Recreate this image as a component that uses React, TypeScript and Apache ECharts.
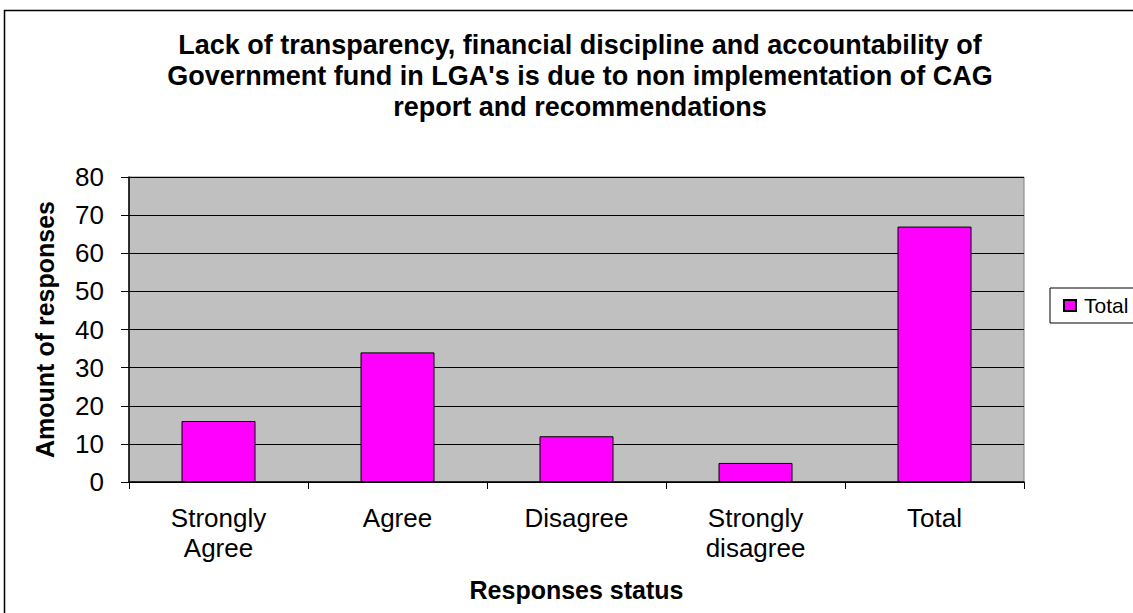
import React, { useEffect, useRef } from "react";
import * as echarts from "echarts";

const categories = ["Strongly\nAgree", "Agree", "Disagree", "Strongly\ndisagree", "Total"];
const totalValues = [16, 34, 12, 5, 67];
const yTicks = [0, 10, 20, 30, 40, 50, 60, 70, 80];
const titleText =
  "Lack of transparency, financial discipline and accountability of\nGovernment fund in LGA's is due to non implementation of CAG\nreport and recommendations";

export default function App() {
  const ref = useRef<HTMLDivElement>(null);
  useEffect(() => {
    if (!ref.current) return;
    const chart = echarts.init(ref.current, null, { renderer: "svg" });
    const font = "Liberation Sans, Arial, sans-serif";
    chart.setOption({
      animation: false,
      textStyle: { fontFamily: font },
      graphic: [
        {
          type: "rect",
          shape: { x: 4.5, y: 10.5, width: 1200, height: 700 },
          style: { fill: "none", stroke: "#000", lineWidth: 1.5 },
          silent: true,
        },
      ],
      title: {
        text: titleText,
        left: 575,
        top: 24,
        textAlign: "center",
        textStyle: {
          fontFamily: font,
          fontSize: 27,
          fontWeight: "bold",
          lineHeight: 31,
          color: "#000",
        },
      },
      legend: {
        left: 1050,
        top: 288,
        orient: "vertical",
        data: ["Total"],
        icon: "rect",
        itemWidth: 12,
        itemHeight: 11,
        itemGap: 4,
        padding: [7, 30, 7, 13],
        borderColor: "#000",
        borderWidth: 1,
        textStyle: { fontFamily: font, fontSize: 21, color: "#000", padding: [0, 0, 0, 3] },
      },
      grid: {
        left: 129,
        right: 109,
        top: 177,
        bottom: 131,
        show: true,
        backgroundColor: "#C0C0C0",
        borderColor: "#808080",
        borderWidth: 1,
      },
      xAxis: {
        type: "category",
        data: categories,
        name: "Responses status",
        nameLocation: "middle",
        nameGap: 95,
        nameTextStyle: { fontFamily: font, fontSize: 25, fontWeight: "bold", color: "#000" },
        axisLine: { lineStyle: { color: "#000", width: 1.5 } },
        axisTick: { show: true, length: 7, lineStyle: { color: "#000" } },
        axisLabel: { fontFamily: font, fontSize: 26, color: "#000", margin: 21, lineHeight: 30 },
      },
      yAxis: {
        type: "value",
        min: yTicks[0],
        max: yTicks[yTicks.length - 1],
        interval: 10,
        name: "Amount of responses",
        nameLocation: "middle",
        nameGap: 72,
        nameTextStyle: { fontFamily: font, fontSize: 25, fontWeight: "bold", color: "#000" },
        axisLine: { show: true, lineStyle: { color: "#000", width: 1.5 } },
        axisTick: { show: true, length: 8, lineStyle: { color: "#000" } },
        axisLabel: { fontFamily: font, fontSize: 26, color: "#000", margin: 25 },
        splitLine: { show: true, lineStyle: { color: "#000", width: 1 } },
      },
      series: [
        {
          name: "Total",
          type: "bar",
          data: totalValues,
          barWidth: 74,
          itemStyle: { color: "#FF00FF", borderColor: "#000", borderWidth: 1 },
        },
      ],
    });
    return () => chart.dispose();
  }, []);
  return (
    <div
      ref={ref}
      style={{ position: "absolute", left: 0, top: 0, width: 1133, height: 613, background: "#fff" }}
    />
  );
}
